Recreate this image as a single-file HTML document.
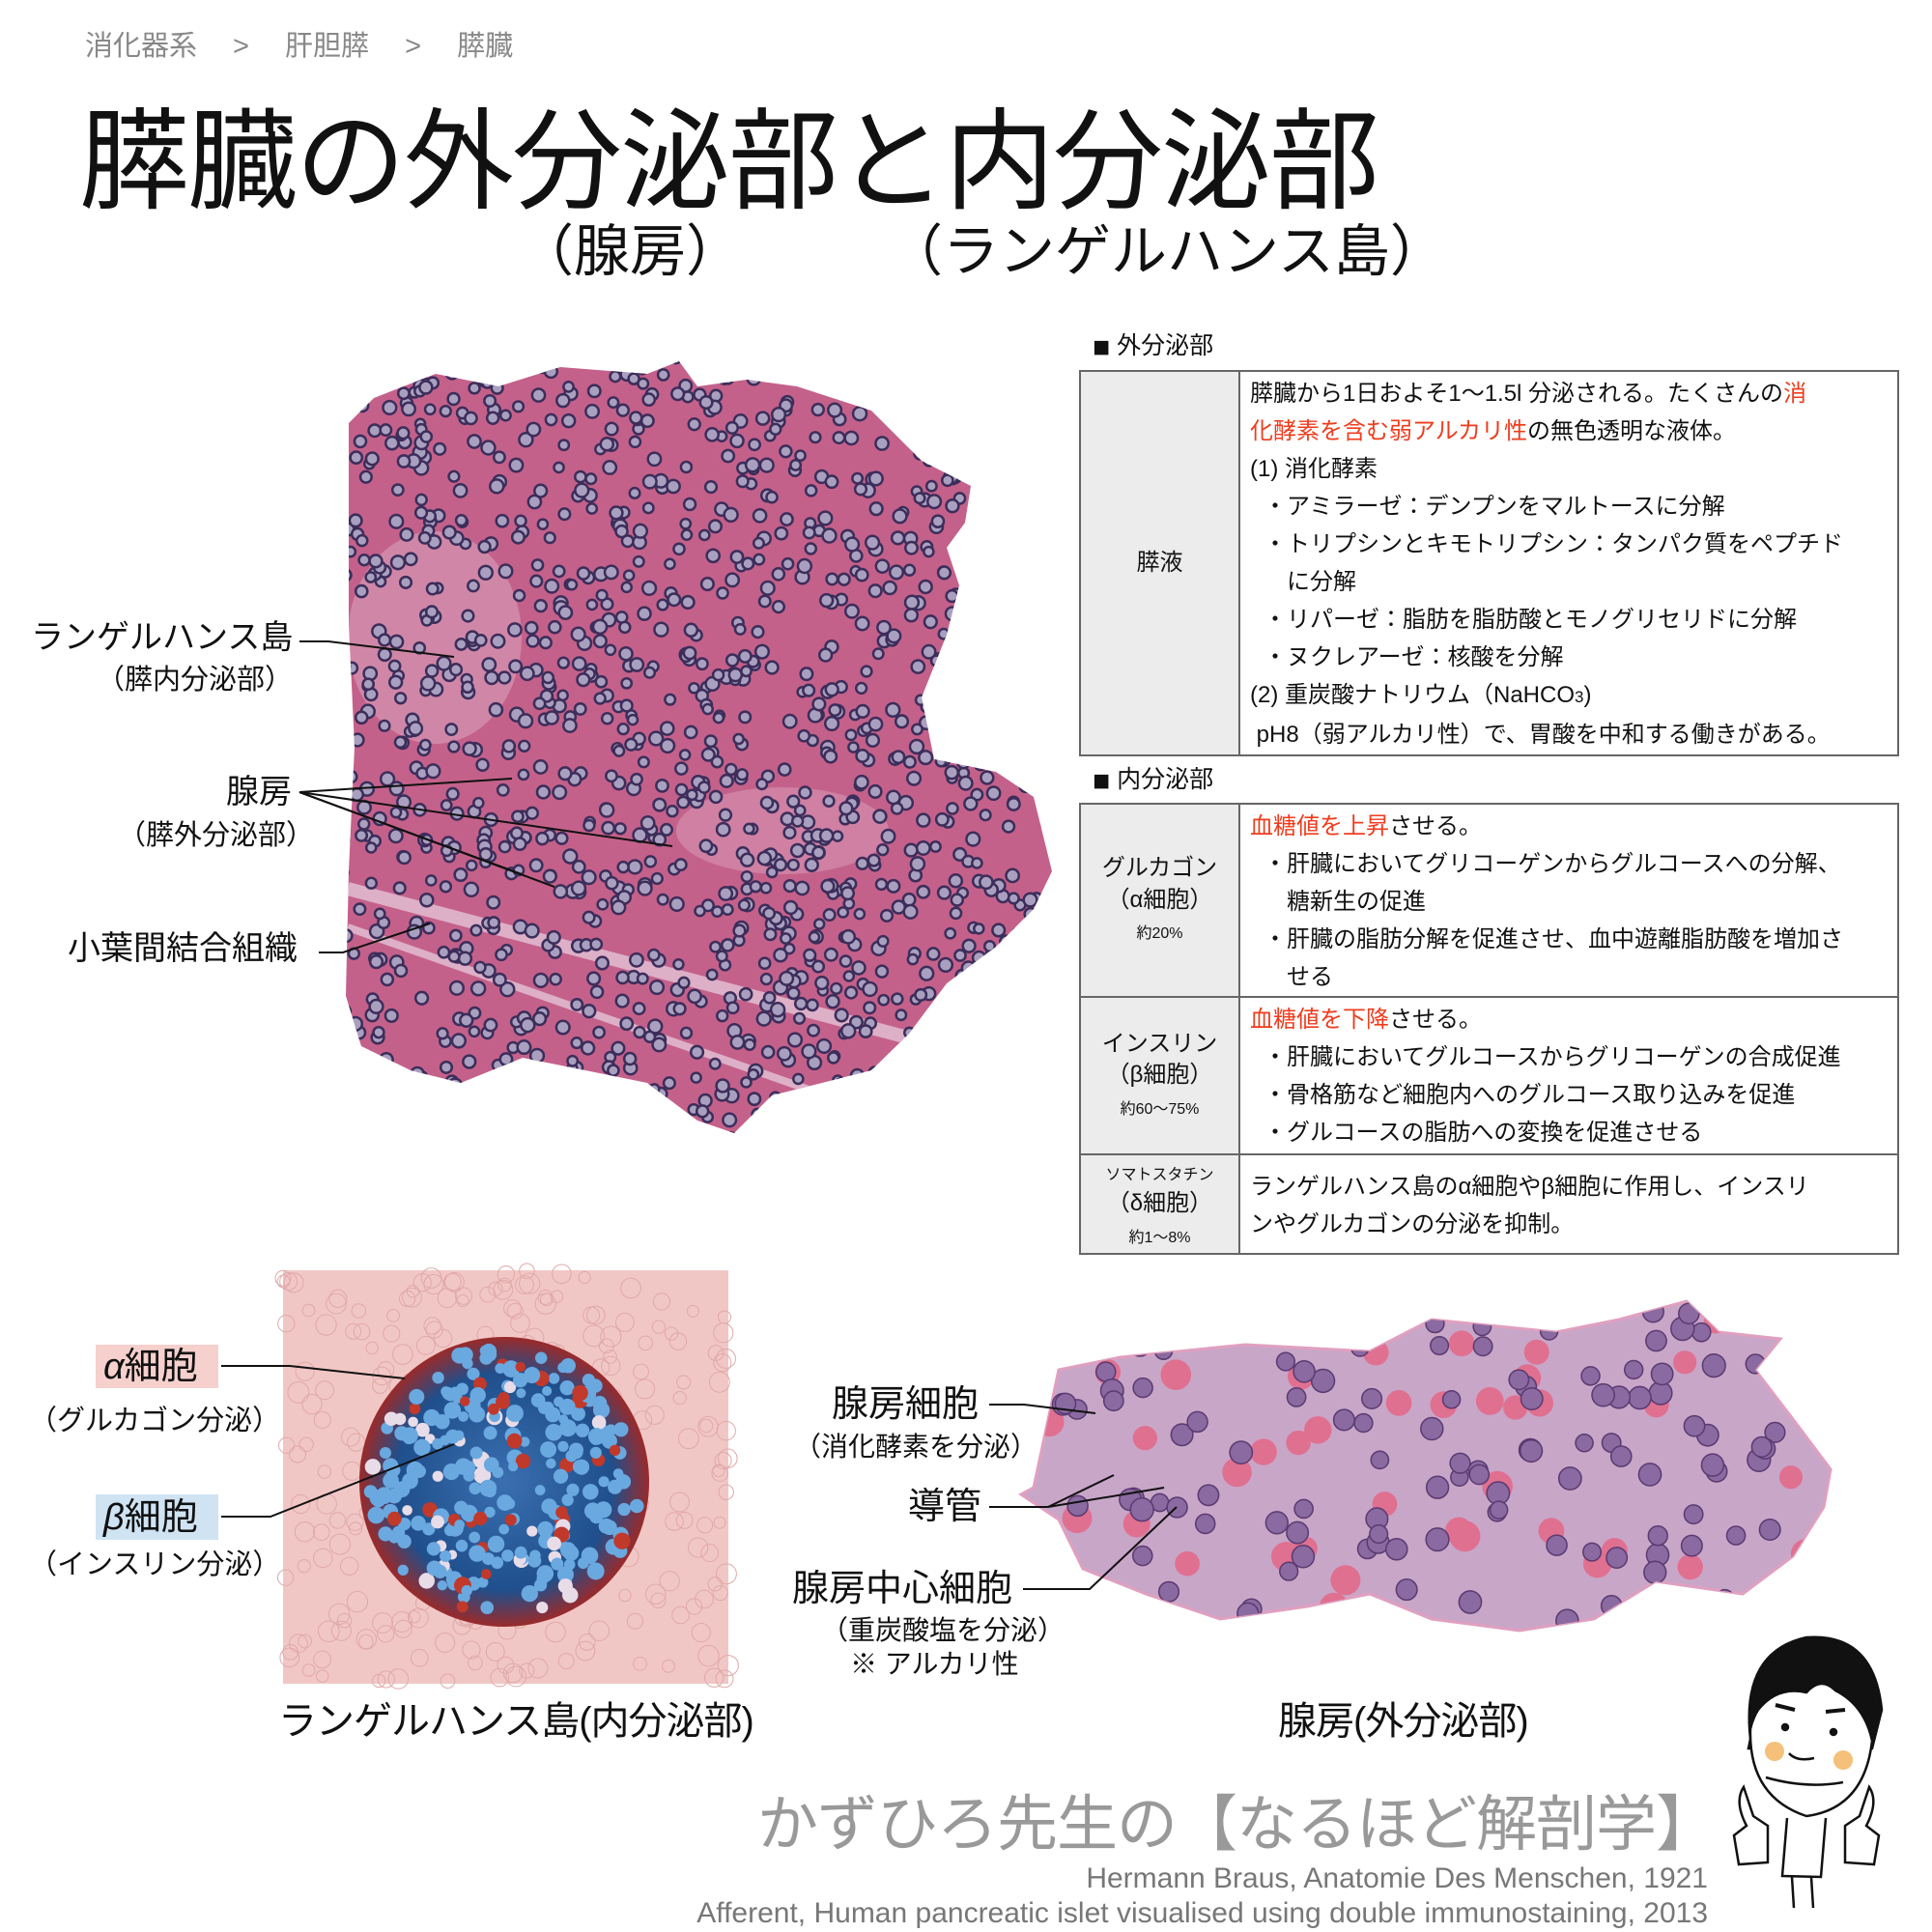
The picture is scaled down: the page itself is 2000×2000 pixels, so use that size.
<!DOCTYPE html>
<html><head><meta charset="utf-8">
<style>
*{margin:0;padding:0;box-sizing:border-box}
body{width:2000px;height:2000px;background:#fff;position:relative;overflow:hidden;font-family:"Liberation Sans","Noto Sans CJK JP",sans-serif;color:#111}
.a{position:absolute;white-space:nowrap;line-height:1}
.r{color:#f03c1e}
table{position:absolute;border-collapse:collapse;font-size:24px}
td{border:2px solid #666;vertical-align:top}
td.l{background:#ececec;text-align:center;vertical-align:middle;width:165px;line-height:1.35}
td.c{padding:3px 10px 0 10px;line-height:39px}
.ind{padding-left:14px}
.ind2{padding-left:38px}
.sm{font-size:16px}
.sq{font-size:30px;vertical-align:-3px}
</style></head><body>
<div class="a" style="left:88px;top:34px;font-size:29px;color:#888">消化器系　 &gt; 　肝胆膵　 &gt; 　膵臓</div>
<div class="a" style="left:82px;top:112px;font-size:114px;letter-spacing:-2px">膵臓の外分泌部と内分泌部</div>
<div class="a" style="left:536px;top:232px;font-size:58px">（腺房）</div>
<div class="a" style="left:918px;top:232px;font-size:58px">（ランゲルハンス島）</div>

<svg style="position:absolute;left:0;top:0" width="2000" height="2000">
<defs>
<clipPath id="c1"><polygon points="361,438 387,412 451,387 516,400 580,380 670,387 703,374 722,400 773,393 825,400 902,425 954,477 1005,503 999,541 980,567 993,606 980,657 954,722 967,786 1031,799 1070,825 1089,902 1070,941 1031,980 980,1018 941,1070 902,1108 851,1121 799,1134 760,1173 722,1160 670,1121 606,1108 541,1095 477,1121 425,1108 374,1083 358,1031 361,902 367,773 361,645"/></clipPath>
<clipPath id="c3"><polygon points="1070,1540 1096,1418 1160,1405 1289,1392 1418,1399 1482,1366 1611,1379 1676,1366 1746,1347 1779,1379 1843,1386 1817,1418 1856,1469 1895,1521 1888,1560 1856,1611 1804,1650 1714,1637 1650,1676 1573,1688 1482,1676 1418,1650 1353,1663 1263,1676 1186,1650 1121,1624 1096,1573 1057,1547"/></clipPath>
<radialGradient id="bl" cx="50%" cy="50%" r="50%"><stop offset="0" stop-color="#3a6fb0"/><stop offset=".75" stop-color="#1f4f8c"/><stop offset="1" stop-color="#9a2a2a"/></radialGradient>
</defs>
<polygon points="361,438 387,412 451,387 516,400 580,380 670,387 703,374 722,400 773,393 825,400 902,425 954,477 1005,503 999,541 980,567 993,606 980,657 954,722 967,786 1031,799 1070,825 1089,902 1070,941 1031,980 980,1018 941,1070 902,1108 851,1121 799,1134 760,1173 722,1160 670,1121 606,1108 541,1095 477,1121 425,1108 374,1083 358,1031 361,902 367,773 361,645" fill="#c4618a"/>
<g id="g1" clip-path="url(#c1)">
<ellipse cx="450" cy="660" rx="90" ry="110" fill="#d9a0bb" opacity=".6"/>
<ellipse cx="810" cy="860" rx="110" ry="45" fill="#d9a0bb" opacity=".5"/>
<path d="M360 920 L1000 1090" stroke="#ddb0c8" stroke-width="14" fill="none"/>
<path d="M360 960 L900 1150" stroke="#ddb0c8" stroke-width="8" fill="none"/>
</g>
<rect x="293" y="1315" width="461" height="428" fill="#f1c7c6"/>
<g id="g2"></g>
<circle cx="522" cy="1534" r="150" fill="url(#bl)"/>
<g id="g2b"></g>
<polygon points="1070,1540 1096,1418 1160,1405 1289,1392 1418,1399 1482,1366 1611,1379 1676,1366 1746,1347 1779,1379 1843,1386 1817,1418 1856,1469 1895,1521 1888,1560 1856,1611 1804,1650 1714,1637 1650,1676 1573,1688 1482,1676 1418,1650 1353,1663 1263,1676 1186,1650 1121,1624 1096,1573 1057,1547" fill="#c8a6c8" stroke="#e0a0c0" stroke-width="3"/>
<g id="g3" clip-path="url(#c3)"></g>
<g stroke="#111" stroke-width="2" fill="none">
<polyline points="310,664 340,664 470,680"/>
<polyline points="310,820 530,806"/><line x1="310" y1="820" x2="696" y2="876"/><line x1="310" y1="820" x2="574" y2="918"/><line x1="310" y1="820" x2="540" y2="905"/>
<polyline points="330,986 355,986 445,956"/>
<polyline points="229,1414 300,1414 419,1427"/>
<polyline points="229,1570 280,1570 470,1495"/>
<polyline points="1024,1454 1060,1454 1134,1463"/>
<polyline points="1024,1560 1085,1560 1153,1527"/><line x1="1085" y1="1560" x2="1205" y2="1540"/>
<polyline points="1059,1645 1128,1645 1218,1560"/>
</g>
<g transform="translate(1790,1690)" stroke="#111" stroke-width="2.5" fill="#fff">
<path d="M22 110 Q12 20 80 5 Q150 0 158 80 L148 120 L20 120 Z" fill="#111"/>
<path d="M22 100 Q20 170 80 190 Q140 182 148 112 Q140 75 110 60 Q95 45 80 62 Q50 55 30 80 Q24 90 22 100Z"/>
<circle cx="47" cy="123" r="10" fill="#f5c07a" stroke="none"/><circle cx="118" cy="132" r="10" fill="#f5c07a" stroke="none"/>
<circle cx="58" cy="98" r="3" fill="#111"/><circle cx="108" cy="103" r="3" fill="#111"/>
<path d="M48 75 L68 80 M100 82 L120 80" fill="none" stroke-width="4"/>
<path d="M62 125 Q70 134 88 130" fill="none"/>
<path d="M38 150 Q80 162 118 155" fill="none"/>
<path d="M60 192 L55 252 L95 253 L100 192" />
<path d="M65 253 L67 285 M85 253 L87 285"/>
<path d="M15 160 Q5 175 18 200 L5 210 L10 240 L40 238 L40 200 L25 190 Z"/>
<path d="M145 160 Q155 175 142 200 L155 210 L150 240 L120 238 L120 200 L135 190 Z"/>
</g>
</svg>

<div class="a" style="left:1131px;top:345px;font-size:25px"><span class="sq">■</span> 外分泌部</div>
<table style="left:1117px;top:383px;width:849px">
<tr><td class="l" style="height:398px">膵液</td>
<td class="c">膵臓から1日およそ1〜1.5l 分泌される。たくさんの<span class="r">消<br>化酵素を含む弱アルカリ性</span>の無色透明な液体。<br>(1) 消化酵素<br><span class="ind">・アミラーゼ：デンプンをマルトースに分解</span><br><span class="ind">・トリプシンとキモトリプシン：タンパク質をペプチド</span><br><span class="ind2">に分解</span><br><span class="ind">・リパーゼ：脂肪を脂肪酸とモノグリセリドに分解</span><br><span class="ind">・ヌクレアーゼ：核酸を分解</span><br>(2) 重炭酸ナトリウム（NaHCO<span style="font-size:17px">3</span>)<br>&nbsp;pH8（弱アルカリ性）で、胃酸を中和する働きがある。</td></tr>
</table>
<div class="a" style="left:1131px;top:794px;font-size:25px"><span class="sq">■</span> 内分泌部</div>
<table style="left:1117px;top:831px;width:849px">
<tr><td class="l" style="height:200px">グルカゴン<br>（α細胞）<br><span class="sm">約20%</span></td>
<td class="c"><span class="r">血糖値を上昇</span>させる。<br><span class="ind">・肝臓においてグリコーゲンからグルコースへの分解、</span><br><span class="ind2">糖新生の促進</span><br><span class="ind">・肝臓の脂肪分解を促進させ、血中遊離脂肪酸を増加さ</span><br><span class="ind2">せる</span></td></tr>
<tr><td class="l" style="height:163px">インスリン<br>（β細胞）<br><span class="sm">約60〜75%</span></td>
<td class="c"><span class="r">血糖値を下降</span>させる。<br><span class="ind">・肝臓においてグルコースからグリコーゲンの合成促進</span><br><span class="ind">・骨格筋など細胞内へのグルコース取り込みを促進</span><br><span class="ind">・グルコースの脂肪への変換を促進させる</span></td></tr>
<tr><td class="l" style="height:103px"><span class="sm">ソマトスタチン</span><br>（δ細胞）<br><span class="sm">約1〜8%</span></td>
<td class="c" style="vertical-align:middle">ランゲルハンス島のα細胞やβ細胞に作用し、インスリ<br>ンやグルカゴンの分泌を抑制。</td></tr>
</table>

<div class="a" style="left:32px;top:643px;font-size:34px">ランゲルハンス島</div>
<div class="a" style="left:100px;top:690px;font-size:29px">（膵内分泌部）</div>
<div class="a" style="left:234px;top:803px;font-size:34px">腺房</div>
<div class="a" style="left:122px;top:851px;font-size:29px">（膵外分泌部）</div>
<div class="a" style="left:70px;top:965px;font-size:34px">小葉間結合組織</div>

<div class="a" style="left:99px;top:1392px;width:127px;height:45px;background:#f5d0cc;font-size:38px;padding:4px 0 0 8px"><i>α</i>細胞</div>
<div class="a" style="left:30px;top:1457px;font-size:29px">（グルカゴン分泌）</div>
<div class="a" style="left:99px;top:1547px;width:127px;height:47px;background:#cfe3f3;font-size:38px;padding:5px 0 0 8px"><i>β</i>細胞</div>
<div class="a" style="left:30px;top:1606px;font-size:29px">（インスリン分泌）</div>
<div class="a" style="left:288px;top:1762px;font-size:40px;letter-spacing:-1px">ランゲルハンス島(内分泌部)</div>

<div class="a" style="left:861px;top:1435px;font-size:38px">腺房細胞</div>
<div class="a" style="left:822px;top:1484px;font-size:28px">（消化酵素を分泌）</div>
<div class="a" style="left:940px;top:1541px;font-size:38px">導管</div>
<div class="a" style="left:820px;top:1626px;font-size:38px">腺房中心細胞</div>
<div class="a" style="left:850px;top:1674px;font-size:28px">（重炭酸塩を分泌）</div>
<div class="a" style="left:880px;top:1709px;font-size:28px">※ アルカリ性</div>
<div class="a" style="left:1323px;top:1762px;font-size:40px;letter-spacing:-1px">腺房(外分泌部)</div>

<div class="a" style="left:784px;top:1858px;font-size:63px;color:#999;letter-spacing:-1px">かずひろ先生の【なるほど解剖学】</div>
<div class="a" style="right:232px;top:1930px;font-size:30px;color:#777">Hermann Braus, Anatomie Des Menschen, 1921</div>
<div class="a" style="right:232px;top:1966px;font-size:30px;color:#777">Afferent, Human pancreatic islet visualised using double immunostaining, 2013</div>

<script>
var s=7;function R(){s=(s*16807)%2147483647;return s/2147483647}
var NS="http://www.w3.org/2000/svg";
function c(g,x,y,r,f,st,sw){var e=document.createElementNS(NS,"circle");e.setAttribute("cx",x);e.setAttribute("cy",y);e.setAttribute("r",r);e.setAttribute("fill",f);if(st){e.setAttribute("stroke",st);e.setAttribute("stroke-width",sw)}g.appendChild(e)}
var g1=document.getElementById("g1");
for(var i=0;i<1400;i++){c(g1,355+R()*740,370+R()*810,5+R()*2,"#a9a0c0","#3c2d5a",2.5)}
var g2=document.getElementById("g2");
for(var i=0;i<300;i++){c(g2,293+R()*461,1315+R()*428,6+R()*5,"none","#e0a8a8",1)}
var g2b=document.getElementById("g2b");
for(var i=0;i<260;i++){var a=R()*6.283,d=Math.sqrt(R())*140;c(g2b,522+Math.cos(a)*d,1534+Math.sin(a)*d,5+R()*4,R()<.75?"#6aa8e0":(R()<.5?"#c0392b":"#e8dce8"))}
var g3=document.getElementById("g3");
for(var i=0;i<40;i++){c(g3,1080+R()*800,1360+R()*320,12+R()*4,"#e07090")}
for(var i=0;i<120;i++){c(g3,1060+R()*840,1350+R()*330,9+R()*3,"#8a6aa0","#5a3a70",1.5)}
</script>
</body></html>
